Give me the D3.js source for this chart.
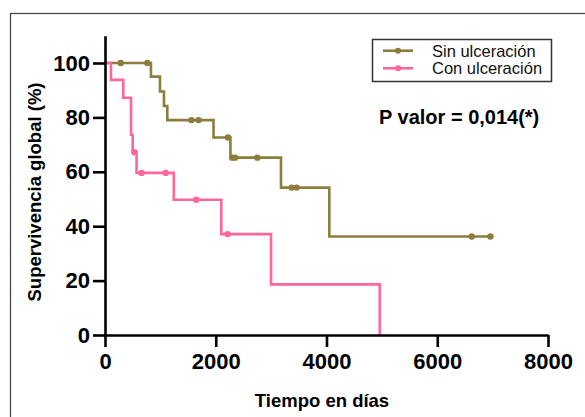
<!DOCTYPE html>
<html>
<head>
<meta charset="utf-8">
<script src="https://cdn.jsdelivr.net/npm/d3@7"></script>
<style>
  html, body { margin: 0; padding: 0; background: #fff; }
  svg { display: block; font-family: "Liberation Sans", Arial, Helvetica, sans-serif; }
</style>
</head>
<body>
<svg id="chart" width="585" height="417"></svg>
<script>
// ---- Data ----
const seriesNames = ["Sin ulceración", "Con ulceración"];
const seriesColors = ["#8C7D3C", "#FF6699"];

const sinTimes = [0, 830, 993, 1065, 1125, 1960, 2265, 3178, 4051, 6960];
const sinSurv  = [100, 95.0, 89.5, 84.2, 79.0, 72.6, 65.2, 54.2, 36.2, 36.2];
const sinCensorTimes = [283, 764, 1560, 1690, 2220, 2298, 2348, 2751, 3371, 3461, 6623, 6960];
const sinCensorSurv  = [100, 100, 79.0, 79.0, 72.6, 65.2, 65.2, 65.2, 54.2, 54.2, 36.2, 36.2];

const conTimes = [0, 108, 330, 470, 500, 570, 1242, 2100, 2998, 4962];
const conSurv  = [100, 93.8, 87.2, 73.6, 67.2, 59.6, 49.7, 37.1, 18.6, 0];
const conCensorTimes = [530, 660, 1096, 1647, 2215];
const conCensorSurv  = [67.2, 59.6, 59.6, 49.7, 37.1];

const xTicks = [0, 2000, 4000, 6000, 8000];
const yTicks = [0, 20, 40, 60, 80, 100];
const xTitle = "Tiempo en días";
const yTitle = "Supervivencia global (%)";
const pText = "P valor = 0,014(*)";

// ---- Build ----
const svg = d3.select("#chart");

// outer frame
svg.append("rect")
  .attr("x", 10.5).attr("y", 13.5)
  .attr("width", 700).attr("height", 600)
  .attr("fill", "none").attr("stroke", "#4a4a4a").attr("stroke-width", 1.3);

const x = d3.scaleLinear().domain([0, 8000]).range([105, 548]);
const y = d3.scaleLinear().domain([0, 110]).range([335, 35.8]);

const series = [
  { name: seriesNames[0], color: seriesColors[0], t: sinTimes, s: sinSurv, ct: sinCensorTimes, cs: sinCensorSurv },
  { name: seriesNames[1], color: seriesColors[1], t: conTimes, s: conSurv, ct: conCensorTimes, cs: conCensorSurv }
];

const line = d3.line()
  .x(d => x(d[0])).y(d => y(d[1]))
  .curve(d3.curveStepAfter);

series.forEach(se => {
  const pts = se.t.map((t, i) => [t, se.s[i]]);
  svg.append("path")
    .datum(pts)
    .attr("d", line)
    .attr("fill", "none")
    .attr("stroke", se.color)
    .attr("stroke-width", 2.6)
    .attr("stroke-linejoin", "miter")
    .attr("stroke-linecap", "butt");
  svg.append("g").selectAll("circle")
    .data(se.ct.map((t, i) => [t, se.cs[i]]))
    .join("circle")
    .attr("cx", d => x(d[0])).attr("cy", d => y(d[1]))
    .attr("r", 3.2)
    .attr("fill", se.color);
});

// axes
const xAxis = d3.axisBottom(x).tickValues(xTicks).tickSize(12).tickSizeOuter(0).tickPadding(6)
  .tickFormat(d3.format("d"));
const gx = svg.append("g").attr("transform", "translate(0,335)").call(xAxis);
gx.select(".domain").attr("stroke", "#000").attr("stroke-width", 2.6);
gx.selectAll(".tick line").attr("stroke", "#000").attr("stroke-width", 2.6);
gx.selectAll(".tick text").attr("fill", "#000")
  .style("font-size", "22px").style("font-weight", "bold")
  .attr("font-family", "'Liberation Sans', Arial, sans-serif");

const yAxis = d3.axisLeft(y).tickValues(yTicks).tickSize(12).tickSizeOuter(0).tickPadding(3)
  .tickFormat(d3.format("d"));
const gy = svg.append("g").attr("transform", "translate(105,0)").call(yAxis);
gy.select(".domain").attr("stroke", "#000").attr("stroke-width", 2.6);
gy.selectAll(".tick line").attr("stroke", "#000").attr("stroke-width", 2.6);
gy.selectAll(".tick text").attr("fill", "#000")
  .style("font-size", "22px").style("font-weight", "bold")
  .attr("font-family", "'Liberation Sans', Arial, sans-serif");

// axis titles
svg.append("text")
  .attr("x", 322).attr("y", 407)
  .attr("text-anchor", "middle")
  .style("font-size", "18.5px").style("font-weight", "bold")
  .text(xTitle);

svg.append("text")
  .attr("transform", "translate(41,192) rotate(-90)")
  .attr("text-anchor", "middle")
  .style("font-size", "18.5px").style("font-weight", "bold")
  .text(yTitle);

// p value
svg.append("text")
  .attr("x", 379).attr("y", 124)
  .style("font-size", "20px").style("font-weight", "bold")
  .text(pText);

// legend
const lg = svg.append("g");
lg.append("rect")
  .attr("x", 372.5).attr("y", 39.5).attr("width", 179).attr("height", 42)
  .attr("fill", "#fff").attr("stroke", "#333").attr("stroke-width", 1.5);
const legY = [50.7, 68.3];
series.forEach((se, i) => {
  lg.append("line")
    .attr("x1", 383).attr("x2", 413).attr("y1", legY[i]).attr("y2", legY[i])
    .attr("stroke", se.color).attr("stroke-width", 2.6);
  lg.append("circle").attr("cx", 398).attr("cy", legY[i]).attr("r", 3).attr("fill", se.color);
  lg.append("text")
    .attr("x", 432).attr("y", legY[i] + 5.8)
    .style("font-size", "16.5px")
    .attr("fill", "#111")
    .text(se.name);
});
</script>
</body>
</html>
